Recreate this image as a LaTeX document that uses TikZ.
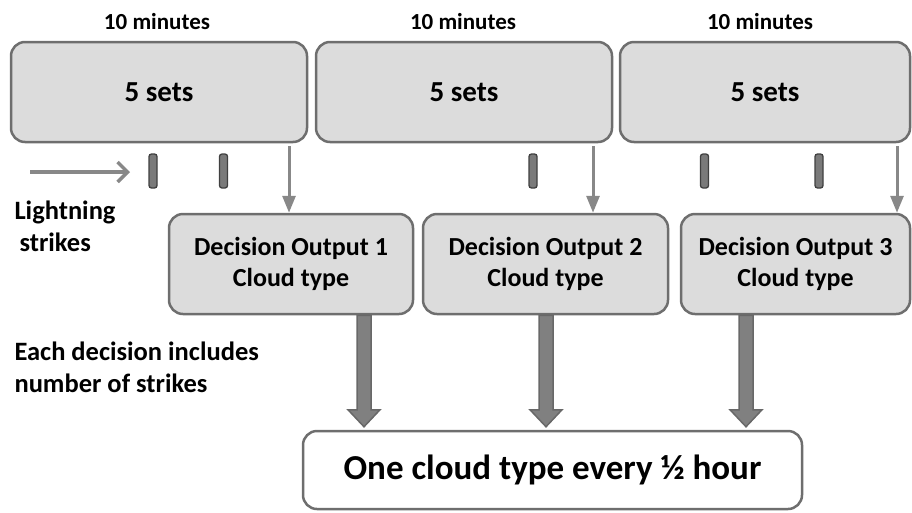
\documentclass[tikz,border=0pt]{standalone}
\usepackage{fontspec}
\setmainfont{Carlito}
\usetikzlibrary{arrows.meta,calc}
\definecolor{boxfill}{HTML}{DCDCDC}
\definecolor{boxline}{HTML}{6E6E6E}
\definecolor{arrowgray}{HTML}{888888}
\definecolor{fatfill}{HTML}{808080}
\definecolor{fatline}{HTML}{686868}
\definecolor{barfill}{HTML}{7A7A7A}
\definecolor{barline}{HTML}{404040}
\begin{document}
\begin{tikzpicture}
[x=1pt,y=-1pt,
  setbox/.style={shape=rectangle,rounded corners=14pt,draw=boxline,fill=boxfill,
    line width=2.5pt,minimum height=100pt,
    font=\fontsize{29}{31}\selectfont\bfseries},%
  decbox/.style={shape=rectangle,rounded corners=14pt,draw=boxline,fill=boxfill,
    line width=2.5pt,minimum height=100pt,align=center,
    font=\fontsize{26}{31}\selectfont\bfseries},%
  outbox/.style={shape=rectangle,rounded corners=14pt,draw=boxline,fill=white,
    line width=2.5pt,minimum width=499pt,minimum height=78pt,
    font=\fontsize{35}{37}\selectfont\bfseries},%
  minlabel/.style={anchor=base,font=\fontsize{23}{25}\selectfont\bfseries},%
  sidetext/.style={anchor=base west,align=left,
    font=\fontsize{26.5}{31.5}\selectfont\bfseries},%
  strikebar/.style={shape=rectangle,rounded corners=2.5pt,draw=barline,fill=barfill,
    line width=1.3pt,inner sep=0pt,minimum width=8pt,minimum height=34pt},%
  thinarrow/.style={draw=arrowgray,line width=3pt,shorten <=3pt,
    -{Triangle[length=17pt,width=13pt]}},%
  strikearrow/.style={draw=arrowgray,line width=3.5pt,
    -{Straight Barb[length=10pt,width=20pt,line width=3.5pt]}},%
  fatarrow/.style={fill=fatfill,draw=fatline,line width=1.5pt,line join=miter}]
\useasboundingbox (0,0) rectangle (912,512);
%% ten minute windows
\foreach \nodename/\x/\w in {top1/159/296, top2/464/296, top3/765/290} {
  \node (\nodename) at (\x,92) [setbox,minimum width=\w pt] {5 sets};
}
\foreach \nodename/\x in {lab1/157, lab2/463, lab3/760} {
  \node (\nodename) at (\x,29) [minlabel] {10 minutes};
}
%% strikes
\foreach \barname/\x in {s1/153, s2/223.5, s3/533, s4/704.5, s5/819} {
  \node (\barname) at (\x,171) [strikebar] {};
}
\coordinate (lstart) at (30,172);
\coordinate (lend) at (130,172);
\draw[strikearrow] (lstart) -- (lend);
\node (light) at (11,251) [sidetext] {Lightning\\\hspace{5pt}strikes};
%% decisions
\foreach \nodename/\x/\w/\n in {dec1/291/244/1, dec2/545.5/245/2, dec3/795.5/229/3} {
  \node (\nodename) at (\x,264) [decbox,minimum width=\w pt] {Decision Output \n\\Cloud type};
}
\node (each) at (11,392) [sidetext] {Each decision includes\\number of strikes};
\node (out) at (552.5,470) [outbox] {One cloud type every ½ hour};
%% arrows
\foreach \startnode/\endnode/\x in {top1/dec1/289, top2/dec2/593, top3/dec3/897} {
  \draw[thinarrow] (\x,0 |- \startnode.south) -- (\x,0 |- \endnode.north);
}
\foreach \decname/\x in {dec1/364, dec2/546, dec3/746} {
  \coordinate (top) at (\x,0 |- \decname.south);
  \coordinate (tip) at (\x,0 |- out.north);
  \draw[fatarrow] ($(top)+(-7,0)$) -- ($(tip)+(-7,-20)$) -- ($(tip)+(-16,-20)$)
    -- ($(tip)+(0,-3)$) -- ($(tip)+(16,-20)$) -- ($(tip)+(7,-20)$)
    -- ($(top)+(7,0)$) -- cycle;
}
\end{tikzpicture}
\end{document}
